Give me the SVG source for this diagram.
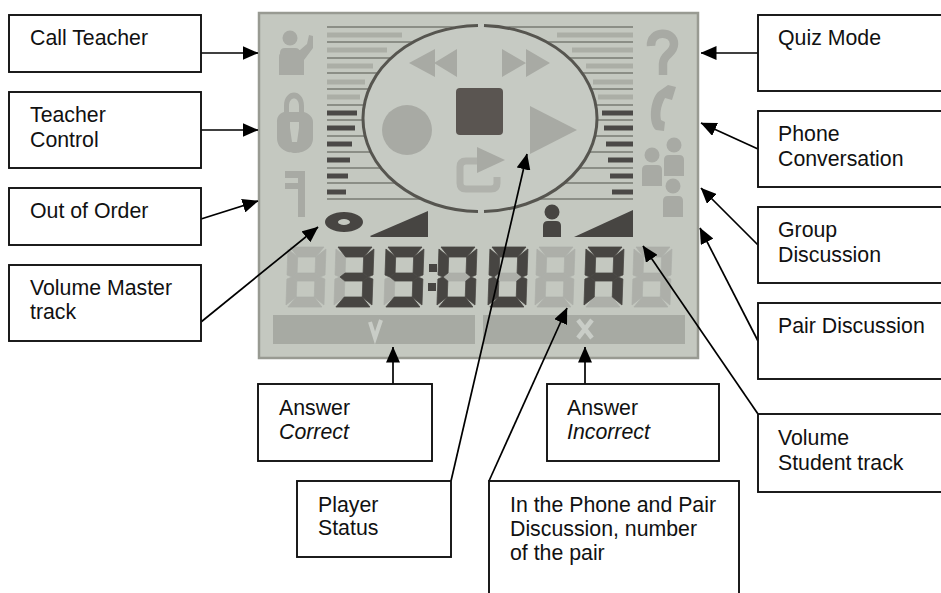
<svg xmlns="http://www.w3.org/2000/svg" width="941" height="593" viewBox="0 0 941 593">
<style>
.box{fill:#fff;stroke:#111;stroke-width:1.9}
text{font-family:"Liberation Sans",Arial,sans-serif;font-size:21.3px;fill:#111}
.it{font-style:italic}
.con{stroke:#000;stroke-width:1.7;fill:none;marker-end:url(#ah)}
.thin{stroke:#787b73;stroke-width:1.5}
.lt{stroke:#abaea6;stroke-width:5}
.dk{stroke:#4c4a46;stroke-width:5}
.ic{fill:#a8aaa4}
.icl{fill:none;stroke:#a8aaa4}
.dark{fill:#474542}
.seg{fill:#adafa9;stroke:#adafa9;stroke-width:.7}
.on{fill:#474542;stroke:#474542;stroke-width:.7}
</style>
<defs>
<marker id="ah" markerUnits="userSpaceOnUse" markerWidth="16" markerHeight="14" refX="15.500" refY="7" orient="auto"><path d="M0 0L16 7L0 14z" fill="#000"/></marker>
<filter id="soft" x="-5%" y="-5%" width="110%" height="110%"><feGaussianBlur stdDeviation="0.7"/></filter>
<polygon id="a" points="2,0 36,0 28,10 10,10"/>
<polygon id="b" points="38,2 28,10 28,26 33,30 38,28"/>
<polygon id="c" points="38,32 33,30 28,34 28,50 38,58"/>
<polygon id="d" points="10,50 28,50 36,60 2,60"/>
<polygon id="e" points="0,32 5,30 10,34 10,50 0,58"/>
<polygon id="f" points="0,2 10,10 10,26 5,30 0,28"/>
<polygon id="g" points="5,30 10,26 28,26 33,30 28,34 10,34"/>
<g id="d8" class="seg"><use href="#a"/><use href="#b"/><use href="#c"/><use href="#d"/><use href="#e"/><use href="#f"/><use href="#g"/></g>
<g id="person"><circle cx="0" cy="0" r="7.500"/><path d="M-10 31V15Q-10 10 -5 10H5Q10 10 10 15V31z"/></g>
</defs>

<g id="lcd-panel" filter="url(#soft)">
<rect x="259" y="13" width="439" height="345" fill="#c4c8c0" stroke="#989a92" stroke-width="2.500"/>
<g id="lines">
<path class="thin" d="M327 27H633M327 42H633M327 58H633M327 73H633M327 89H633M327 105H633M327 120H633M327 136H633M327 152H633M327 168H633M327 183H633M327 199H633" fill="none"/>
<path class="lt" d="M327 35H402M327 50H387M327 66H373M327 82H365M327 97H360M557 35H633M572 50H633M586 66H633M593 82H633M598 97H633"/>
<path class="dk" d="M327 113H357M327 128H355M327 144H352M327 160H350M327 176H348M327 192H346M602 113H633M604 128H633M606 144H633M608 160H633M610 176H633M612 192H633"/>
</g>
<g id="dial">
<ellipse cx="480" cy="118" rx="117" ry="94" fill="#c6cac3"/>
<path d="M478 25.500A117 93 0 0 0 363 118A117 93 0 0 0 478 211.500M484 25.500A117 93 0 0 1 597 118A117 93 0 0 1 484 211.500" fill="none" stroke="#565550" stroke-width="3"/>
<path class="ic" d="M409 63L435 49V77zM434 63L457 49V77zM502 49L526 63L502 77zM526 49L550 63L526 77z"/>
<circle class="ic" cx="407" cy="130" r="25"/>
<rect x="456" y="88" width="47" height="47" rx="4" fill="#5a5551"/>
<path class="ic" d="M530 106L577 130L530 154z"/>
<path fill="none" stroke="#b0b2ac" stroke-width="7" d="M478 161H466Q460 161 460 167V183Q460 189 466 189H491Q497 189 497 183V177"/>
<path class="ic" d="M477 147L505 160L477 173z"/>
</g>
<g id="left-icons">
<use href="#person" class="ic" x="290" y="38"/>
<path class="ic" d="M279 75V58Q279 50 287 50H300L307 44L309 35L313 36L313 48L304 60V75z"/>
<path fill-rule="evenodd" class="ic" d="M284 112V106C284 88 304 88 304 106V112C310 114 313 118 313 122V138C313 150 301 153 295 153C289 153 277 150 277 138V122C277 118 278 114 284 112ZM289 112H299V106C299 96 289 96 289 106ZM290 122V128L292 142H297L299 128V122z"/>
<path class="ic" d="M285 171H305V217H298V189H285V183H298V178H285z"/>
</g>
<g id="right-icons">
<path class="icl" stroke-width="8.500" d="M651 46C650 30 674 30 674 44C674 54 663 54 663 64V75"/>
<path class="ic" d="M668 85L676 87L672 100L665 98C660 108 660 114 661 120L665 122L664 131L656 130C648 124 650 100 658 92z"/>
<use href="#person" class="ic" x="652" y="155"/>
<use href="#person" class="ic" x="674" y="145"/>
<use href="#person" class="ic" x="673" y="186"/>
</g>
<g id="volume-icons">
<path fill-rule="evenodd" class="dark" d="M325 222a19 10 0 1 0 38 0a19 10 0 1 0 -38 0zM338 222a6 3 0 1 1 12 0a6 3 0 1 1 -12 0z"/>
<path class="dark" d="M370 236L428 211V237H371z"/>
<path class="dark" d="M574 237L633 210V237z"/>
<g class="dark"><circle cx="552" cy="212" r="7.500"/><path d="M543 237V226Q543 221 548 221H556Q561 221 561 226V237z"/></g>
</g>
<g id="digits">
<g transform="translate(288 247) skewX(-2)"><use href="#d8"/></g>
<g transform="translate(336 247) skewX(-2)"><use href="#d8"/><g class="on"><use href="#a"/><use href="#b"/><use href="#c"/><use href="#d"/><use href="#g"/></g></g>
<g transform="translate(386 247) skewX(-2)"><use href="#d8"/><g class="on"><use href="#a"/><use href="#b"/><use href="#c"/><use href="#d"/><use href="#f"/><use href="#g"/></g></g>
<rect class="dark" x="429" y="264" width="8" height="8"/><rect class="dark" x="428" y="283" width="8" height="8"/>
<g transform="translate(439 247) skewX(-2)"><use href="#d8"/><g class="on"><use href="#a"/><use href="#b"/><use href="#c"/><use href="#d"/><use href="#e"/><use href="#f"/></g></g>
<g transform="translate(490 247) skewX(-2)"><use href="#d8"/><g class="on"><use href="#a"/><use href="#b"/><use href="#c"/><use href="#d"/><use href="#e"/><use href="#f"/></g></g>
<g transform="translate(537 247) skewX(-2)"><use href="#d8"/></g>
<g transform="translate(586 247) skewX(-2)"><use href="#d8"/><g class="on"><use href="#a"/><use href="#b"/><use href="#c"/><use href="#e"/><use href="#f"/><use href="#g"/></g></g>
<g transform="translate(634 247) skewX(-2)"><use href="#d8"/></g>
</g>
<g id="answer-bars">
<rect x="273" y="315" width="202" height="29" fill="#a7aaa3"/>
<rect x="483" y="315" width="202" height="29" fill="#a7aaa3"/>
<path d="M370 322L375 338L381 320" fill="none" stroke="#c9cdc7" stroke-width="4"/>
<path d="M578 320L592 338M592 320L578 338" fill="none" stroke="#c9cdc7" stroke-width="4.500"/>
</g>
</g>

<g id="connectors">
<line class="con" x1="201" y1="53" x2="258" y2="53"/>
<line class="con" x1="201" y1="130" x2="258" y2="130"/>
<line class="con" x1="201" y1="219" x2="258" y2="201"/>
<line class="con" x1="201" y1="322" x2="318" y2="227"/>
<line class="con" x1="758" y1="53" x2="701" y2="53"/>
<line class="con" x1="758" y1="149" x2="701" y2="123"/>
<line class="con" x1="758" y1="245" x2="701" y2="188"/>
<line class="con" x1="758" y1="341" x2="700" y2="228"/>
<line class="con" x1="393" y1="384" x2="393" y2="347"/>
<line class="con" x1="585" y1="384" x2="585" y2="347"/>
<line class="con" x1="451" y1="481" x2="527" y2="154"/>
<line class="con" x1="489" y1="481" x2="567" y2="308"/>
<line class="con" x1="758" y1="414" x2="643" y2="246"/>
</g>

<g id="call-teacher"><rect class="box" x="9" y="15" width="192" height="57"/><text x="30" y="45">Call Teacher</text></g>
<g id="teacher-control"><rect class="box" x="9" y="92" width="192" height="76"/><text x="30" y="122">Teacher</text><text x="30" y="147">Control</text></g>
<g id="out-of-order"><rect class="box" x="9" y="188" width="192" height="57"/><text x="30" y="218">Out of Order</text></g>
<g id="volume-master"><rect class="box" x="9" y="265" width="192" height="76"/><text x="30" y="295">Volume Master</text><text x="30" y="319">track</text></g>
<g id="quiz-mode"><rect class="box" x="758" y="15" width="190" height="76"/><text x="778" y="45">Quiz Mode</text></g>
<g id="phone-conversation"><rect class="box" x="758" y="111" width="190" height="76"/><text x="778" y="141">Phone</text><text x="778" y="166">Conversation</text></g>
<g id="group-discussion"><rect class="box" x="758" y="207" width="190" height="76"/><text x="778" y="237">Group</text><text x="778" y="262">Discussion</text></g>
<g id="pair-discussion"><rect class="box" x="758" y="303" width="190" height="76"/><text x="778" y="333">Pair Discussion</text></g>
<g id="volume-student"><rect class="box" x="758" y="414" width="190" height="78"/><text x="778" y="445">Volume</text><text x="778" y="470">Student track</text></g>
<g id="answer-correct"><rect class="box" x="258" y="384" width="174" height="77"/><text x="279" y="415">Answer</text><text class="it" x="279" y="439">Correct</text></g>
<g id="answer-incorrect"><rect class="box" x="547" y="384" width="172" height="77"/><text x="567" y="415">Answer</text><text class="it" x="567" y="439">Incorrect</text></g>
<g id="player-status"><rect class="box" x="297" y="481" width="154" height="76"/><text x="318" y="512">Player</text><text x="318" y="535">Status</text></g>
<g id="pair-number"><rect class="box" x="489" y="481" width="250" height="130"/><text x="510" y="512">In the Phone and Pair</text><text x="510" y="536">Discussion, number</text><text x="510" y="560">of the pair</text></g>
</svg>
